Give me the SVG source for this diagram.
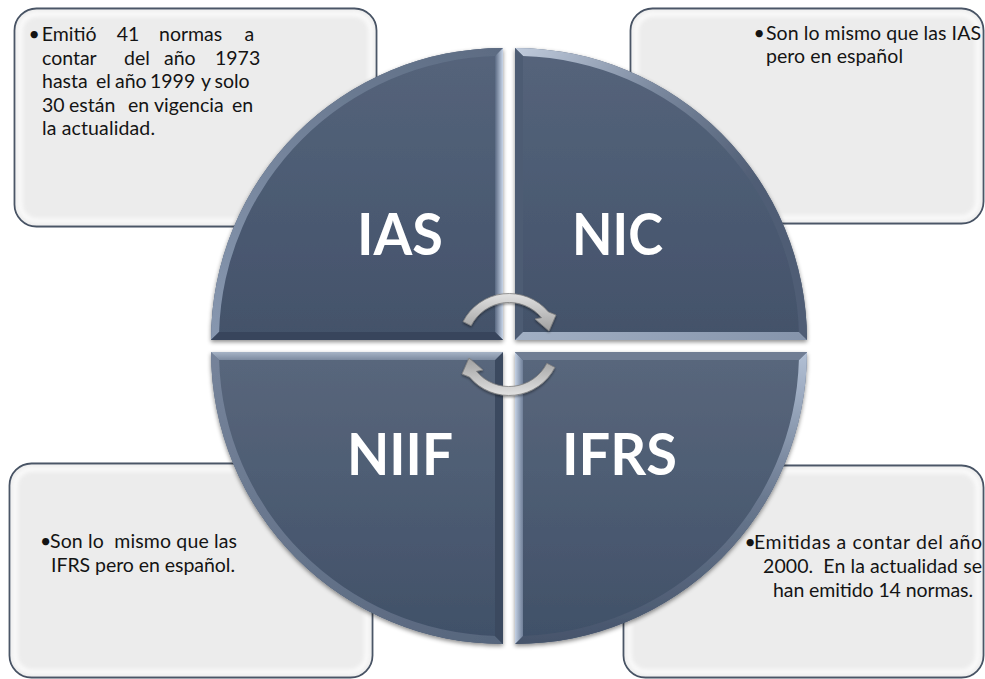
<svg xmlns="http://www.w3.org/2000/svg" width="985" height="679" viewBox="0 0 985 679">
  <style>
    .box { fill: #ececec; stroke: #3e4a5c; stroke-width: 1.8; }
    .box-glow { fill: none; stroke: #ffffff; stroke-width: 5; opacity: 0.8; filter: url(#soft); }
    .txt { font-family: Lato, "Liberation Sans", sans-serif; font-size: 19.5px; fill: #141414; }
    .big { font-family: Lato, "Liberation Sans", sans-serif; font-weight: bold; font-size: 58px; fill: #ffffff; }
    .arrow { stroke: #7f7f7f; stroke-width: 0.8; fill: url(#gArrow); }
  </style>
  <defs>
    <filter id="soft" x="-5%" y="-5%" width="110%" height="110%">
      <feGaussianBlur stdDeviation="2"/>
    </filter>
    <filter id="shadow" x="-8%" y="-8%" width="116%" height="116%">
      <feDropShadow dx="0" dy="2" stdDeviation="2" flood-color="#000000" flood-opacity="0.45"/>
    </filter>
    <filter id="arrowShadow" x="-20%" y="-20%" width="140%" height="140%">
      <feDropShadow dx="0" dy="1.5" stdDeviation="1.2" flood-color="#000000" flood-opacity="0.4"/>
    </filter>
    <linearGradient id="gTop" x1="0" y1="0" x2="0" y2="1">
      <stop offset="0" stop-color="#55647b"/>
      <stop offset="1" stop-color="#43526a"/>
    </linearGradient>
    <linearGradient id="gBottom" x1="0" y1="0" x2="0" y2="1">
      <stop offset="0" stop-color="#59677c"/>
      <stop offset="1" stop-color="#405068"/>
    </linearGradient>
    <!-- bevel facets -->
    <linearGradient id="gIasV" x1="0" y1="0" x2="1" y2="0">
      <stop offset="0" stop-color="#5a6982"/>
      <stop offset="1" stop-color="#c8d5e8"/>
    </linearGradient>
    <linearGradient id="gIasArc" x1="1" y1="0" x2="0" y2="1">
      <stop offset="0" stop-color="#5c6b82"/>
      <stop offset="1" stop-color="#8797af"/>
    </linearGradient>
    <linearGradient id="gNicArc" x1="0" y1="0" x2="0.7" y2="0.6">
      <stop offset="0" stop-color="#c0cbdc"/>
      <stop offset="0.5" stop-color="#7a889e"/>
      <stop offset="1" stop-color="#4f5d74"/>
    </linearGradient>
    <linearGradient id="gNicH" x1="0" y1="0" x2="1" y2="0">
      <stop offset="0" stop-color="#a2b0c4"/>
      <stop offset="1" stop-color="#8594ab"/>
    </linearGradient>
    <linearGradient id="gNiifH" x1="0" y1="0" x2="0" y2="1">
      <stop offset="0" stop-color="#a7b4c6"/>
      <stop offset="1" stop-color="#7d8ba0"/>
    </linearGradient>
    <linearGradient id="gNiifArc" x1="0" y1="0" x2="1" y2="1">
      <stop offset="0" stop-color="#75839a"/>
      <stop offset="1" stop-color="#56657c"/>
    </linearGradient>
    <linearGradient id="gIfrsV" x1="0" y1="0" x2="1" y2="0">
      <stop offset="0" stop-color="#c4d1e4"/>
      <stop offset="1" stop-color="#6f7f98"/>
    </linearGradient>
    <linearGradient id="gIfrsArc" x1="0" y1="0" x2="0" y2="1">
      <stop offset="0" stop-color="#b2c0d5"/>
      <stop offset="0.5" stop-color="#6a7990"/>
      <stop offset="1" stop-color="#46546b"/>
    </linearGradient>
    <linearGradient id="gArrow" x1="0" y1="0" x2="0" y2="1">
      <stop offset="0" stop-color="#e2e2e2"/>
      <stop offset="1" stop-color="#a0a0a0"/>
    </linearGradient>
  </defs>

  <!-- description boxes (behind the disc) -->
  <g id="box-ias">
    <rect class="box" x="14.5" y="8.5" width="362" height="218" rx="22"/>
    <rect class="box-glow" x="20" y="14" width="351" height="207" rx="17"/>
    <text class="txt" y="41"><tspan x="28.5">•</tspan><tspan x="41.7">Emitió </tspan><tspan x="116.7">41 </tspan><tspan x="159">normas </tspan><tspan x="244.5">a</tspan></text>
    <text class="txt" y="64.5"><tspan x="42">contar </tspan><tspan x="124">del </tspan><tspan x="164">año </tspan><tspan x="215">1973</tspan></text>
    <text class="txt" y="88"><tspan x="42">hasta </tspan><tspan x="96">el </tspan><tspan x="115">año</tspan> <tspan x="150">1999</tspan> <tspan x="201">y</tspan> <tspan x="214.5">solo</tspan></text>
    <text class="txt" y="111.5"><tspan x="42">30 </tspan><tspan x="69">están </tspan><tspan x="128">en </tspan><tspan x="154">vigencia </tspan><tspan x="232">en</tspan></text>
    <text class="txt" x="42" y="135" textLength="113" lengthAdjust="spacing">la actualidad.</text>
  </g>

  <g id="box-nic">
    <rect class="box" x="630.5" y="8.5" width="353" height="215" rx="22"/>
    <rect class="box-glow" x="636" y="14" width="342" height="204" rx="17"/>
    <text class="txt" y="40"><tspan x="753.5">•</tspan><tspan x="766" textLength="215" lengthAdjust="spacing">Son lo mismo que las IAS</tspan></text>
    <text class="txt" x="766" y="63" textLength="137" lengthAdjust="spacing">pero en español</text>
  </g>

  <g id="box-niif">
    <rect class="box" x="9.5" y="463.5" width="363" height="214" rx="22"/>
    <rect class="box-glow" x="15" y="469" width="352" height="203" rx="17"/>
    <text class="txt" y="548"><tspan x="40">•</tspan><tspan x="50" textLength="187" lengthAdjust="spacing">Son lo&#160; mismo que las</tspan></text>
    <text class="txt" x="51" y="572" textLength="184" lengthAdjust="spacing">IFRS pero en español.</text>
  </g>

  <g id="box-ifrs">
    <rect class="box" x="623.5" y="465.5" width="360" height="212" rx="22"/>
    <rect class="box-glow" x="629" y="471" width="349" height="201" rx="17"/>
    <text class="txt" y="549"><tspan x="744.5">•</tspan><tspan x="754" textLength="228" lengthAdjust="spacing">Emitidas a contar del año</tspan></text>
    <text class="txt" x="763" y="573" textLength="219" lengthAdjust="spacing">2000.&#160; En la actualidad se</text>
    <text class="txt" x="773" y="597" textLength="200" lengthAdjust="spacing">han emitido 14 normas.</text>
  </g>

  <!-- disc quadrants -->
  <g id="node-ias">
    <g filter="url(#shadow)">
      <path d="M503,340 L211,340 A292,292 0 0 1 503,48 Z" fill="url(#gTop)"/>
      <path d="M211,340 A292,292 0 0 1 503,48 L495,56.1 A284,284 0 0 0 219.1,332 Z" fill="url(#gIasArc)"/>
      <path d="M503,340 L503,48 L495,56.1 L495,332 Z" fill="url(#gIasV)"/>
      <path d="M503,340 L495,332 L219.1,332 L211,340 Z" fill="#37455b"/>
    </g>
    <text class="big" x="357" y="255" textLength="86" lengthAdjust="spacingAndGlyphs">IAS</text>
  </g>

  <g id="node-nic">
    <g filter="url(#shadow)">
      <path d="M515,340 L807,340 A292,292 0 0 0 515,48 Z" fill="url(#gTop)"/>
      <path d="M807,340 A292,292 0 0 0 515,48 L523,56.1 A284,284 0 0 1 798.9,332 Z" fill="url(#gNicArc)"/>
      <path d="M515,340 L515,48 L523,56.1 L523,332 Z" fill="#4e5c73"/>
      <path d="M515,340 L523,332 L798.9,332 L807,340 Z" fill="url(#gNicH)"/>
    </g>
    <text class="big" x="572" y="255" textLength="91" lengthAdjust="spacingAndGlyphs">NIC</text>
  </g>

  <g id="node-niif">
    <g filter="url(#shadow)">
      <path d="M503,352 L211,352 A292,292 0 0 0 503,644 Z" fill="url(#gBottom)"/>
      <path d="M211,352 A292,292 0 0 0 503,644 L495,635.9 A284,284 0 0 1 219.1,360 Z" fill="url(#gNiifArc)"/>
      <path d="M503,352 L503,644 L495,635.9 L495,360 Z" fill="#3a485e"/>
      <path d="M503,352 L495,360 L219.1,360 L211,352 Z" fill="url(#gNiifH)"/>
    </g>
    <text class="big" x="347" y="475" textLength="106" lengthAdjust="spacingAndGlyphs">NIIF</text>
  </g>

  <g id="node-ifrs">
    <g filter="url(#shadow)">
      <path d="M515,352 L807,352 A292,292 0 0 1 515,644 Z" fill="url(#gBottom)"/>
      <path d="M807,352 A292,292 0 0 1 515,644 L523,635.9 A284,284 0 0 0 798.9,360 Z" fill="url(#gIfrsArc)"/>
      <path d="M515,352 L515,644 L523,635.9 L523,360 Z" fill="url(#gIfrsV)"/>
      <path d="M515,352 L523,360 L798.9,360 L807,352 Z" fill="#6f7d93"/>
    </g>
    <text class="big" x="562" y="475" textLength="115" lengthAdjust="spacingAndGlyphs">IFRS</text>
  </g>

  <!-- circular arrows in the middle -->
  <g id="connectors" filter="url(#arrowShadow)">
    <path class="arrow" d="M463.1,321.6 A51.5,51.5 0 0 1 548.4,311.9 L556,315 L549,331 L535,319 L541.6,317.7 A42.5,42.5 0 0 0 471.1,325.7 Z"/>
    <path class="arrow" transform="rotate(180 509 344.5)" d="M463.1,321.6 A51.5,51.5 0 0 1 548.4,311.9 L556,315 L549,331 L535,319 L541.6,317.7 A42.5,42.5 0 0 0 471.1,325.7 Z"/>
  </g>
</svg>
